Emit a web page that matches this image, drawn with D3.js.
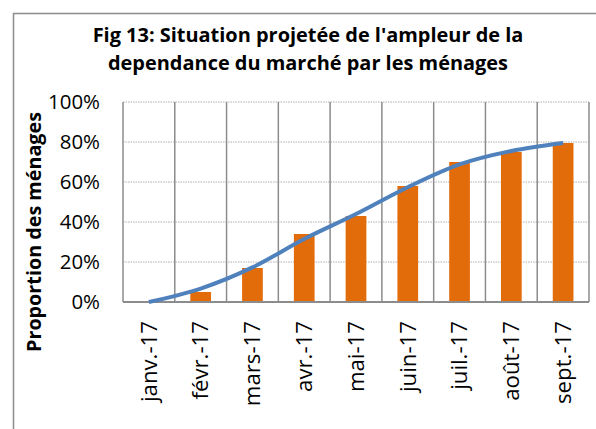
<!DOCTYPE html>
<html>
<head>
<meta charset="utf-8">
<script src="https://cdn.jsdelivr.net/npm/d3@7"></script>
<style>
  html, body { margin: 0; padding: 0; background: #fff; }
  svg { display: block; }
  text { font-family: "Open Sans", Lato, sans-serif; fill: #000; }
</style>
</head>
<body>
<svg id="chart" width="596" height="429"></svg>
<script>
const titleLines = ["Fig 13: Situation projetée de l'ampleur de la", "dependance du marché par les ménages"];
const yAxisTitle = "Proportion des ménages";
const categories = ["janv.-17", "févr.-17", "mars-17", "avr.-17", "mai-17", "juin-17", "juil.-17", "août-17", "sept.-17"];
const barValues = [0, 0.05, 0.17, 0.34, 0.43, 0.58, 0.70, 0.75, 0.795];
const trendValues = [0, 0.067, 0.173, 0.315, 0.44, 0.574, 0.688, 0.755, 0.795];
const yTicks = [0, 0.2, 0.4, 0.6, 0.8, 1.0];

const svg = d3.select("#chart");
const W = 596, H = 429;
const m = { left: 123, top: 102, right: 7, bottom: 127 };
const pw = W - m.left - m.right, ph = H - m.top - m.bottom;

// fit a group of texts to a reference width measured on one of them
function fitSize(sel, refIndex, targetWidth, base) {
  sel.attr("font-size", base);
  const n = sel.nodes()[refIndex];
  const w = n.getComputedTextLength();
  const s = base * targetWidth / w;
  sel.attr("font-size", s.toFixed(2));
}

// outer frame (extends past the picture on right and bottom)
svg.append("rect").attr("x", 13.5).attr("y", 13.5).attr("width", 700).attr("height", 700)
  .attr("fill", "none").attr("stroke", "#8c8c8c").attr("stroke-width", 1.5);

// title
const tt = svg.append("g").selectAll("text").data(titleLines).join("text")
  .attr("x", 308).attr("y", (d, i) => 41.5 + i * 28)
  .attr("text-anchor", "middle").attr("font-weight", "bold")
  .text(d => d);
fitSize(tt, 0, 431, 18);

const g = svg.append("g").attr("transform", `translate(${m.left},${m.top})`);
const x = d3.scaleBand().domain(categories).range([0, pw]).paddingInner(0).paddingOuter(0);
const y = d3.scaleLinear().domain([0, 1]).range([ph, 0]);

// horizontal grid (dotted)
g.append("g").selectAll("line").data(yTicks.filter(d => d > 0)).join("line")
  .attr("x1", 0).attr("x2", pw).attr("y1", d => y(d)).attr("y2", d => y(d))
  .attr("stroke", "#b0b0b0").attr("stroke-width", 1).attr("stroke-dasharray", "1.5,1");

// vertical band separators
const seps = categories.map(c => x(c)).concat([pw]);
g.append("g").selectAll("line").data(seps).join("line")
  .attr("x1", d => d).attr("x2", d => d).attr("y1", 0).attr("y2", ph)
  .attr("stroke", "#8c8c8c").attr("stroke-width", 1.5);

// bars
const bw = x.bandwidth() * 0.4;
g.append("g").selectAll("rect").data(barValues.map((v, i) => ({ c: categories[i], v })).filter(d => d.v > 0)).join("rect")
  .attr("x", d => x(d.c) + x.bandwidth() / 2 - bw / 2)
  .attr("width", bw)
  .attr("y", d => y(d.v)).attr("height", d => ph - y(d.v))
  .attr("fill", "#e36c0a");

// x axis line
g.append("line").attr("x1", 0).attr("x2", pw).attr("y1", ph).attr("y2", ph)
  .attr("stroke", "#8c8c8c").attr("stroke-width", 2);

// trend line
const line = d3.line()
  .x((d, i) => x(categories[i]) + x.bandwidth() / 2)
  .y(d => y(d))
  .curve(d3.curveMonotoneX);
g.append("path").datum(trendValues).attr("d", line)
  .attr("fill", "none").attr("stroke", "#4f81bd").attr("stroke-width", 4).attr("stroke-linecap", "butt");

// y axis labels
const yAxis = d3.axisLeft(y).tickValues(yTicks).tickFormat(d3.format(".0%")).tickSize(0).tickPadding(23);
const ya = g.append("g").call(yAxis);
ya.select(".domain").remove();
const yt = ya.selectAll("text").attr("font-family", "'Open Sans', sans-serif").attr("fill", "#000");
fitSize(yt, 5, 52, 20);

// x axis labels
const xAxis = d3.axisBottom(x).tickSize(0).tickPadding(0);
const xa = g.append("g").attr("transform", `translate(0,${ph})`).call(xAxis);
xa.select(".domain").remove();
const xt = xa.selectAll("text")
  .attr("font-family", "'Open Sans', sans-serif").attr("fill", "#000")
  .attr("transform", "rotate(-90)")
  .attr("text-anchor", "end")
  .attr("x", -19).attr("y", 0).attr("dy", "0.35em");
fitSize(xt, 8, 83, 20);

// y axis title
const yTitle = svg.append("text")
  .attr("transform", "translate(41,232) rotate(-90)")
  .attr("text-anchor", "middle").attr("font-weight", "bold")
  .text(yAxisTitle);
fitSize(yTitle, 0, 240, 19);
</script>
</body>
</html>
